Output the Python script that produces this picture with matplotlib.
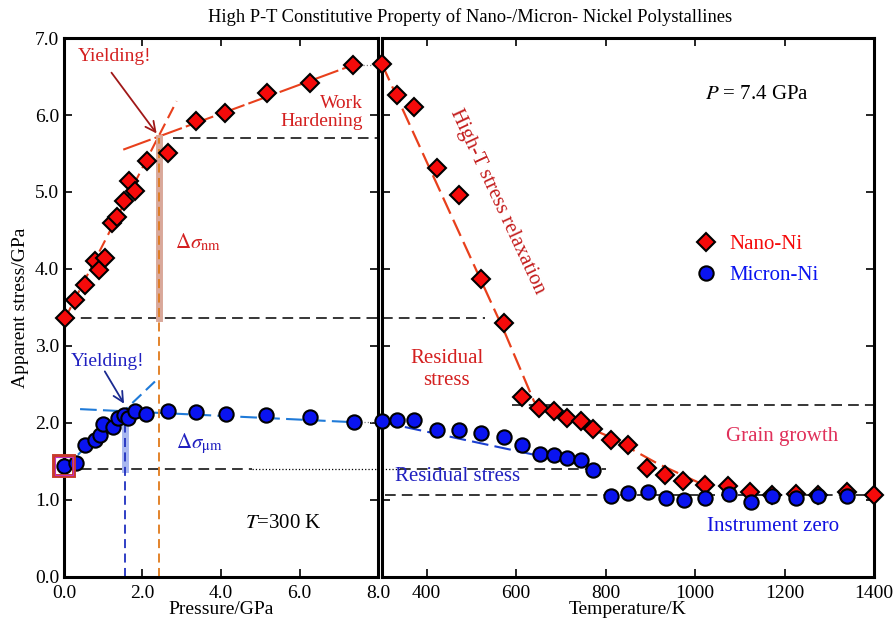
import matplotlib
matplotlib.use("Agg")
import matplotlib.pyplot as plt

plt.rcParams["font.family"] = ["Liberation Serif", "DejaVu Serif"]
plt.rcParams["mathtext.fontset"] = "stix"

# ── data: pressure run at 300 K ───────────────────────────────────────────────
nano_p = [0.03, 0.28, 0.54, 0.79, 0.90, 1.04, 1.23, 1.36, 1.53, 1.66, 1.81,
          2.12, 2.66, 3.36, 4.10, 5.16, 6.27, 7.37]
nano_p_s = [3.36, 3.60, 3.79, 4.10, 3.99, 4.14, 4.60, 4.68, 4.88, 5.14, 5.01,
            5.40, 5.51, 5.92, 6.02, 6.29, 6.42, 6.65]
micro_p = [0.01, 0.31, 0.54, 0.79, 0.92, 1.00, 1.26, 1.38, 1.53, 1.64, 1.81,
           2.08, 2.64, 3.36, 4.12, 5.14, 6.27, 7.39]
micro_p_s = [1.44, 1.48, 1.71, 1.78, 1.84, 1.99, 1.95, 2.07, 2.10, 2.07, 2.15,
             2.12, 2.15, 2.14, 2.12, 2.10, 2.08, 2.01]

# ── data: heating run at 7.4 GPa ──────────────────────────────────────────────
nano_t = [299, 333, 372, 422, 473, 522, 572, 612, 651, 685, 713, 745, 772,
          813, 851, 893, 933, 973, 1022, 1074, 1123, 1172, 1226, 1275, 1340, 1399]
nano_t_s = [6.66, 6.26, 6.11, 5.31, 4.96, 3.87, 3.30, 2.34, 2.20, 2.15, 2.07,
            2.03, 1.92, 1.78, 1.71, 1.41, 1.32, 1.25, 1.19, 1.18, 1.11, 1.06,
            1.08, 1.06, 1.10, 1.06]
micro_t = [301, 333, 372, 422, 473, 522, 572, 613, 653, 685, 713, 745, 772,
           813, 851, 894, 936, 975, 1022, 1076, 1124, 1172, 1226, 1275, 1340]
micro_t_s = [2.02, 2.04, 2.04, 1.91, 1.91, 1.87, 1.82, 1.71, 1.60, 1.58, 1.55,
             1.52, 1.39, 1.05, 1.09, 1.10, 1.03, 1.00, 1.03, 1.08, 0.98, 1.05,
             1.03, 1.05, 1.05]

# fitted guide lines
nano_elastic_p, nano_elastic_s = [0.03, 2.87], [3.36, 6.18]
nano_hard_p, nano_hard_s = [1.51, 7.37], [5.55, 6.65]
micro_elastic_p, micro_elastic_s = [0.01, 2.32], [1.42, 2.54]
micro_flat_p, micro_flat_s = [0.41, 7.39], [2.18, 2.01]
nano_relax_t = [300, 572, 640, 670, 805, 917, 1029]
nano_relax_s = [6.66, 3.21, 2.28, 2.17, 1.83, 1.47, 1.17]
micro_relax_t, micro_relax_s = [301, 767], [2.01, 1.43]

yield_nano = (2.42, 5.70)
yield_micro = (1.56, 2.15)
nano_resid, micro_resid, zero_level, grain_level = 3.36, 1.40, 1.06, 2.24

RED, BLUE = "#f50a0a", "#0a14f0"
FIT_RED, FIT_BLUE, FIT_LBLUE = "#e8401c", "#1a3fd0", "#1f7ad8"
DIA = dict(marker="D", ls="none", ms=8.8, mfc=RED, mec="black", mew=1.5,
           clip_on=False, zorder=5)
CIR = dict(marker="o", ls="none", ms=10.3, mfc=BLUE, mec="black", mew=1.5,
           clip_on=False, zorder=5)

fig = plt.figure(figsize=(8.96, 6.2), dpi=100)
axL = fig.add_axes([0.0714, 0.0694, 0.3505, 0.8693])
axR = fig.add_axes([0.4263, 0.0694, 0.5491, 0.8693], sharey=axL)

for ax in (axL, axR):
    for sp in ax.spines.values():
        sp.set_linewidth(2.2)
    ax.tick_params(direction="in", length=6, width=1.2, top=True, right=True,
                   labelsize=14)
    ax.tick_params(axis="x", pad=6)

# ── left panel ────────────────────────────────────────────────────────────────
axL.set_xlim(0, 8)
axL.set_ylim(0, 7)
axL.set_xticks([0, 2, 4, 6, 8])
axL.set_xticklabels(["0.0", "2.0", "4.0", "6.0", "8.0"])
axL.set_yticks(range(8))
axL.set_yticklabels([f"{v:.1f}" for v in range(8)])
axL.set_xlabel("Pressure/GPa", fontsize=14, labelpad=-1)
axL.set_ylabel("Apparent stress/GPa", fontsize=14, labelpad=4)

axL.plot(nano_elastic_p, nano_elastic_s, ls=(0, (6, 3)), color=FIT_RED, lw=1.5)
axL.plot(nano_hard_p, nano_hard_s, ls=(0, (14, 2)), color=FIT_RED, lw=1.5)
axL.plot(micro_elastic_p, micro_elastic_s, ls=(0, (6, 3)), color=FIT_LBLUE, lw=1.5)
axL.plot(micro_flat_p, micro_flat_s, ls=(0, (8, 3)), color=FIT_LBLUE, lw=1.5)

# reference levels
axL.plot([2.78, 8], [yield_nano[1]] * 2, "k--", lw=1.1, dashes=(7, 4))
axL.plot([0, 8], [nano_resid] * 2, "k--", lw=1.1, dashes=(7, 4))
axL.plot([0, 4.8], [micro_resid] * 2, "k--", lw=1.1, dashes=(7, 4))
axL.plot([4.8, 8], [micro_resid] * 2, "k:", lw=0.9)
axL.plot([7.37, 8], [6.65, 6.65], ":", color="gray", lw=0.9)
axL.plot([7.39, 8], [2.01, 2.01], ":", color="gray", lw=0.9)

# yield markers and stress jumps
axL.plot([yield_nano[0]] * 2, [nano_resid, yield_nano[1]], color="#d9a89a", lw=5)
axL.plot([yield_nano[0]] * 2, [0, yield_nano[1]], ls=(0, (5, 3)), color="#e07a1a", lw=1.3)
axL.plot([yield_micro[0]] * 2, [micro_resid, yield_micro[1] - 0.05], color="#a9b8f0", lw=5)
axL.plot([yield_micro[0]] * 2, [0, yield_micro[1]], ls=(0, (5, 3)), color="#2030c0", lw=1.3)

axL.plot(nano_p, nano_p_s, **DIA)
axL.plot(micro_p, micro_p_s, **CIR)
axL.plot(micro_p[0], micro_p_s[0], "s", ms=15, mfc="none", mec="#c83a2a",
         mew=2.8, clip_on=False, zorder=6)
axL.plot(micro_p[0], micro_p_s[0], "s", ms=12.5, mfc="none", mec="#c030c0",
         mew=0.8, clip_on=False, zorder=6)

# yield labels and arrows
axL.text(1.3, 6.76, "Yielding!", fontsize=14, color="#d42020",
         ha="center", va="center")
axL.annotate("", xy=(2.36, 5.76), xytext=(1.21, 6.55),
             arrowprops=dict(arrowstyle="->", color="#a01818", lw=1.3,
                             shrinkA=0, shrinkB=0, mutation_scale=18))
axL.text(1.12, 2.80, "Yielding!", fontsize=14, color="#2020c0",
         ha="center", va="center")
axL.annotate("", xy=(1.53, 2.25), xytext=(1.04, 2.67),
             arrowprops=dict(arrowstyle="->", color="#1a2a90", lw=1.3,
                             shrinkA=0, shrinkB=0, mutation_scale=18))

axL.text(7.62, 6.03, "Work\nHardening", fontsize=14, color="#d42020",
         ha="right", va="center", multialignment="right", linespacing=1.1)
axL.text(3.42, 4.34, r"$\Delta\sigma_{\rm nm}$", fontsize=15, color="#d42020",
         ha="center", va="center")
axL.text(3.45, 1.73, r"$\Delta\sigma_{\rm \mu m}$", fontsize=15, color="#2020c0",
         ha="center", va="center")
axL.text(5.58, 0.70, r"$T$=300 K", fontsize=15, ha="center", va="center")

# ── right panel ───────────────────────────────────────────────────────────────
axR.set_xlim(300, 1400)
axR.set_xticks([400, 600, 800, 1000, 1200, 1400])
axR.tick_params(labelleft=False)
axR.set_xlabel("Temperature/K", fontsize=14, labelpad=-1)

axR.plot(nano_relax_t, nano_relax_s, ls=(0, (8, 3)), color=FIT_RED, lw=1.6)
axR.plot(micro_relax_t, micro_relax_s, ls=(0, (8, 3)), color=FIT_BLUE, lw=1.5)

axR.plot([300, 531], [nano_resid] * 2, "k--", lw=1.1, dashes=(7, 4))
axR.plot([300, 340], [micro_resid] * 2, "k:", lw=0.9)
axR.plot([340, 800], [micro_resid] * 2, "k--", lw=1.1, dashes=(7, 4))
axR.plot([307, 1400], [zero_level] * 2, "k--", lw=1.1, dashes=(7, 4))
axR.plot([591, 1400], [grain_level] * 2, "k--", lw=1.1, dashes=(7, 4))

axR.plot(nano_t, nano_t_s, label="Nano-Ni", **DIA)
axR.plot(micro_t, micro_t_s, label="Micron-Ni", **CIR)

axR.legend(loc="center left", bbox_to_anchor=(0.60, 0.588), frameon=False,
           fontsize=15, handlelength=1.0, handletextpad=0.6, labelspacing=0.55,
           labelcolor="markerfacecolor")

axR.text(1138, 6.26, r"$P$ = 7.4 GPa", fontsize=15, ha="center", va="center")
axR.text(557, 4.88, "High-T stress relaxation", fontsize=15, color="#c41e1e",
         rotation=-65, ha="center", va="center", rotation_mode="anchor")
axR.text(445, 2.69, "Residual\nstress", fontsize=15, color="#d42020",
         ha="center", va="center", linespacing=1.2)
axR.text(1195, 1.83, "Grain growth", fontsize=15, color="#e0305a",
         ha="center", va="center")
axR.text(470, 1.31, "Residual stress", fontsize=15, color="#2020c0",
         ha="center", va="center")
axR.text(1175, 0.65, "Instrument zero", fontsize=15, color="#1010e0",
         ha="center", va="center")

fig.text(0.525, 0.972, "High P-T Constitutive Property of Nano-/Micron- Nickel Polystallines",
         fontsize=13.3, ha="center", va="center")

fig.savefig("out.png", dpi=100, facecolor="white")
